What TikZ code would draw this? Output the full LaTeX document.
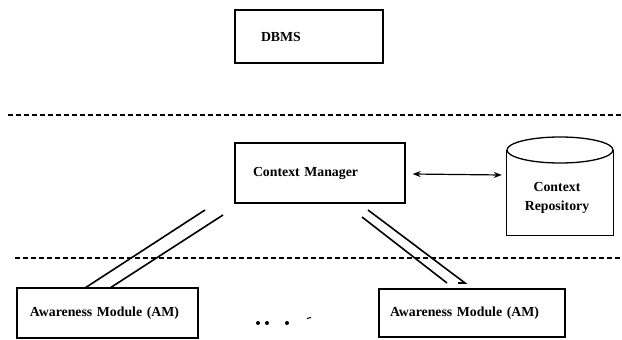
\documentclass[tikz,border=0pt]{standalone}
\usepackage{fontspec}
\setmainfont{Liberation Serif}
\usetikzlibrary{arrows.meta}
\begin{document}
\begin{tikzpicture}[x=1pt,y=-1pt,
  txt/.style={font=\bfseries\fontsize{13.8}{19}\selectfont},
  box/.style={draw, line width=1.3pt, rectangle, inner ysep=0pt, align=left, txt},
  sep/.style={line width=1.6pt, dash pattern=on 5pt off 3pt},
  link/.style={line width=1.6pt},
  bidir/.style={line width=1.2pt, {Stealth[length=8pt,width=6pt]}-{Stealth[length=8pt,width=6pt]}}
]
\useasboundingbox (0,0) rectangle (622,340);

% boxes
\node[box, minimum width=148pt, minimum height=53pt, inner xsep=26pt, text width=96pt] (dbms) at (309,36.5) {DBMS};
\node[box, minimum width=170pt, minimum height=60pt, inner xsep=18pt, text width=134pt] (cm) at (320,173) {Context Manager};
\node[box, minimum width=181pt, minimum height=50pt, inner xsep=13pt, text width=155pt] (am1) at (107.5,313) {Awareness Module (AM)};
\node[box, minimum width=186pt, minimum height=48pt, inner xsep=11pt, text width=164pt] (am2) at (472,313) {Awareness Module (AM)};

% repository (flat-bottom cylinder)
\node[minimum width=106pt, minimum height=98pt, inner sep=0pt] (repo) at (560,186) {};
\draw[line width=1.3pt] (repo.north west) ++(0,13) -- (repo.south west) -- (repo.south east) -- ++(0,-85);
\draw[line width=1.3pt] (560,150) ellipse [x radius=53, y radius=13];
\node[txt, align=center] (repotext) at (557,197.5) {Context\\Repository};

% separators
\coordinate (s1a) at (8,115);
\coordinate (s1b) at (622,115);
\coordinate (s2a) at (15,258);
\coordinate (s2b) at (622,258);
\draw[sep] (s1a) -- (s1b);
\draw[sep] (s2a) -- (s2b);

% bidirectional arrow
\path (cm.east) ++(7,1) coordinate (ar1);
\path (repo.west) ++(-5,-11) coordinate (ar2);
\draw[bidir] (ar1) -- (ar2);

% double links
\coordinate (la1) at (205,210);
\coordinate (la2) at (85,288);
\coordinate (lb1) at (223,215);
\coordinate (lb2) at (110,288);
\draw[link] (la1) -- (la2);
\draw[link] (lb1) -- (lb2);
\coordinate (rc1) at (362,217);
\coordinate (rc2) at (447,283);
\coordinate (rd1) at (368,210);
\coordinate (rd2) at (465,283);
\coordinate (rd3) at (458,283);
\draw[link] (rc1) -- (rc2);
\draw[link] (rd1) -- (rd2) -- (rd3);

% ellipsis dots
\fill (258,323) circle (2pt);
\fill (267,323) circle (2pt);
\fill (287,323) circle (2pt);
\draw[line width=1pt] (307,318.5) -- (311,317.5);
\end{tikzpicture}
\end{document}
